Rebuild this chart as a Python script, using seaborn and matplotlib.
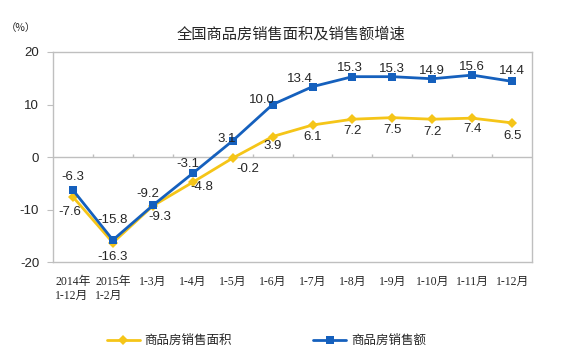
import numpy as np
import pandas as pd
import matplotlib
matplotlib.use("Agg")
import matplotlib.pyplot as plt
import seaborn as sns

months = ["2014年\n1-12月", "2015年\n1-2月", "1-3月", "1-4月", "1-5月", "1-6月",
          "1-7月", "1-8月", "1-9月", "1-10月", "1-11月", "1-12月"]
area = [-7.6, -16.3, -9.3, -4.8, -0.2, 3.9, 6.1, 7.2, 7.5, 7.2, 7.4, 6.5]
sales = [-6.3, -15.8, -9.2, -3.1, 3.1, 10.0, 13.4, 15.3, 15.3, 14.9, 15.6, 14.4]
area_name = "商品房销售面积"
sales_name = "商品房销售额"

sns.set_style("white")
plt.rcParams["font.family"] = ["Liberation Sans", "Noto Sans CJK SC", "DejaVu Sans"]

yellow = "#F5C518"
blue = "#1560BD"
grey = "#BFBFBF"

df = pd.DataFrame({"pos": np.arange(len(months)), "area": area, "sales": sales})

fig = plt.figure(figsize=(5.67, 3.61), dpi=100)
ax = fig.add_axes([0.0935, 0.274, 0.845, 0.582])

sns.lineplot(data=df, x="pos", y="area", ax=ax, color=yellow, lw=2, marker="D",
             markersize=5, markeredgewidth=0, label=area_name, legend=False)
sns.lineplot(data=df, x="pos", y="sales", ax=ax, color=blue, lw=2, marker="s",
             markersize=6, markeredgewidth=0, label=sales_name, legend=False)

ax.set_xlim(-0.5, len(months) - 0.5)
ax.set_ylim(-20, 20)
ax.set_yticks([-20, -10, 0, 10, 20])
ax.set_yticklabels(["-20", "-10", "0", "10", "20"], fontsize=9.5)
ax.set_xticks(df["pos"])
ax.set_xticklabels(months, fontsize=8.5, multialignment="left",
                   family=["Liberation Serif", "Noto Sans CJK SC"])
ax.tick_params(axis="x", length=0, pad=10)
ax.tick_params(axis="y", length=4, color=grey, pad=6, left=True)
ax.set_xlabel("")
ax.set_ylabel("")
for s in ax.spines.values():
    s.set_color(grey)
    s.set_linewidth(1)

# zero line with category boundary ticks
ax.axhline(0, color=grey, lw=1, zorder=1)
ax.vlines(np.arange(0.5, len(months) - 0.5), 0, 0.6, color=grey, lw=1, zorder=1)

# data labels (offsets in pixels)
sales_off = [(0, 13), (0, 20), (-5, 11), (-5, 9), (-6, 2), (-11, 5),
             (-13, 8), (-3, 9), (0, 8), (0, 8), (0, 8), (0, 10)]
area_off = [(-3, -15), (0, -14), (7, -11), (9, -5), (15, -11), (0, -9),
            (0, -12), (0, -12), (0, -12), (0, -13), (0, -11), (0, -13)]
for i in range(len(months)):
    ax.annotate(f"{sales[i]:.1f}", (df["pos"][i], sales[i]), textcoords="offset pixels",
                xytext=sales_off[i], ha="center", va="center", fontsize=9.5)
    ax.annotate(f"{area[i]:.1f}", (df["pos"][i], area[i]), textcoords="offset pixels",
                xytext=area_off[i], ha="center", va="center", fontsize=9.5)

fig.text(0.514, 0.905, "全国商品房销售面积及销售额增速", ha="center", va="center",
         fontsize=11, family=["Noto Sans CJK SC"])
fig.text(0.01, 0.922, "（%）", ha="left", va="center", fontsize=7.5,
         family=["Noto Sans CJK SC"])

handles, labels = ax.get_legend_handles_labels()
fig.legend(handles, labels, loc="center", bbox_to_anchor=(0.47, 0.055), ncol=2,
           frameon=False, fontsize=9, columnspacing=6.5, handlelength=2.6,
           handletextpad=0.4)

fig.savefig("out.png", dpi=100)
